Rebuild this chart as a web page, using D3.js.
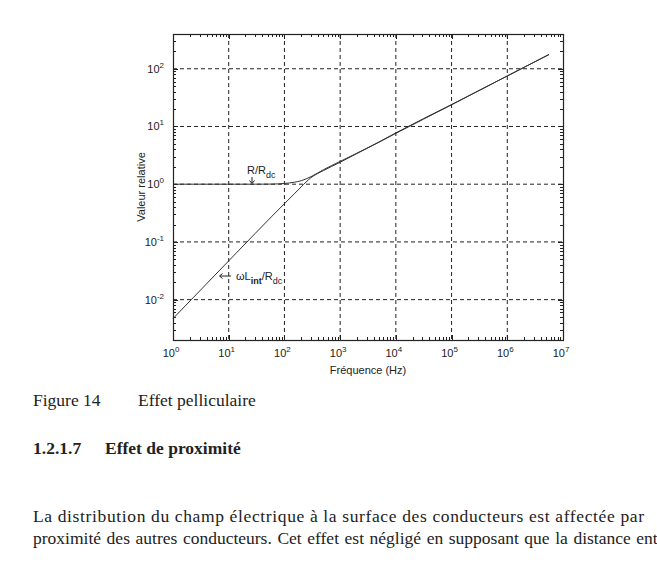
<!DOCTYPE html>
<html>
<head>
<meta charset="utf-8">
<script src="https://cdn.jsdelivr.net/npm/d3@7"></script>
<style>
  body { margin: 0; background: #fff; }
  svg { display: block; }
</style>
</head>
<body>
<div id="chart"></div>
<script>
// values
const freqs = [1, 10, 30, 60, 100, 150, 200, 300, 500, 1000, 2000, 5000, 1e4, 1e5, 1e6, 5.6e6];
const rRatio = [1, 1, 1, 1.005, 1.03, 1.08, 1.15, 1.35, 1.78, 2.48, 3.45, 5.4, 7.75, 24, 75, 177];
const lRatio = [0.0047, 0.047, 0.141, 0.28, 0.46, 0.68, 0.9, 1.3, 1.72, 2.4, 3.4, 5.35, 7.6, 23.7, 75, 176];
const xDecades = [0, 1, 2, 3, 4, 5, 6, 7];
const yDecades = [-2, -1, 0, 1, 2];

const width = 657, height = 565;
const plot = {left: 173, right: 563, top: 34, bottom: 340};

const svg = d3.select("#chart").append("svg")
    .attr("width", width)
    .attr("height", height);

const x = d3.scaleLog().domain([1, 1e7]).range([plot.left, plot.right]);
const y = d3.scaleLog().domain([2e-3, 400]).range([plot.bottom, plot.top]);

//Grid lines
const grid = svg.append("g")
    .attr("stroke", "#222")
    .attr("stroke-width", 1)
    .attr("stroke-dasharray", "4,3");
xDecades.slice(1, -1).forEach(d => {
    grid.append("line")
        .attr("x1", x(Math.pow(10, d))).attr("x2", x(Math.pow(10, d)))
        .attr("y1", plot.top).attr("y2", plot.bottom);
});
yDecades.forEach(d => {
    grid.append("line")
        .attr("x1", plot.left).attr("x2", plot.right)
        .attr("y1", y(Math.pow(10, d))).attr("y2", y(Math.pow(10, d)));
});

//Ticks on all four sides, pointing in
const ticks = svg.append("g").attr("stroke", "#222").attr("stroke-width", 1);
const isMajor = v => Math.abs(Math.log10(v) - Math.round(Math.log10(v))) < 1e-9;
x.ticks().forEach(v => {
    const len = isMajor(v) ? 5 : 3;
    const px = Math.round(x(v)) + 0.5;
    ticks.append("line").attr("x1", px).attr("x2", px).attr("y1", plot.bottom).attr("y2", plot.bottom - len);
    ticks.append("line").attr("x1", px).attr("x2", px).attr("y1", plot.top).attr("y2", plot.top + len);
});
y.ticks().forEach(v => {
    const len = isMajor(v) ? 5 : 3;
    const py = Math.round(y(v)) + 0.5;
    ticks.append("line").attr("y1", py).attr("y2", py).attr("x1", plot.left).attr("x2", plot.left + len);
    ticks.append("line").attr("y1", py).attr("y2", py).attr("x1", plot.right).attr("x2", plot.right - len);
});

//Box
svg.append("rect")
    .attr("x", plot.left + 0.5).attr("y", plot.top + 0.5)
    .attr("width", plot.right - plot.left).attr("height", plot.bottom - plot.top)
    .attr("fill", "none").attr("stroke", "#222").attr("stroke-width", 1.2);

//Tick labels with superscripts
const labelFont = "Liberation Sans, Arial, sans-serif";
xDecades.forEach(d => {
    const t = svg.append("text")
        .attr("x", x(Math.pow(10, d)) - 2)
        .attr("y", 357)
        .attr("text-anchor", "middle")
        .attr("font-family", labelFont)
        .attr("font-size", 11)
        .attr("fill", "#222");
    t.append("tspan").text("10");
    t.append("tspan").attr("dy", -5).attr("font-size", 8).text(d);
});
yDecades.forEach(d => {
    const t = svg.append("text")
        .attr("x", 164)
        .attr("y", y(Math.pow(10, d)) + 4)
        .attr("text-anchor", "end")
        .attr("font-family", labelFont)
        .attr("font-size", 11)
        .attr("fill", "#222");
    t.append("tspan").text("10");
    t.append("tspan").attr("dy", -5).attr("font-size", 8).text(d);
});

//Axis titles
svg.append("text")
    .attr("x", (plot.left + plot.right) / 2)
    .attr("y", 374)
    .attr("text-anchor", "middle")
    .attr("font-family", labelFont)
    .attr("font-size", 11)
    .attr("fill", "#222")
    .text("Fréquence (Hz)");
svg.append("text")
    .attr("transform", "translate(145,187) rotate(-90)")
    .attr("text-anchor", "middle")
    .attr("font-family", labelFont)
    .attr("font-size", 11)
    .attr("fill", "#222")
    .text("Valeur relative");

//Curves
const line = d3.line().x(d => x(d[0])).y(d => y(d[1])).curve(d3.curveMonotoneX);
[rRatio, lRatio].forEach(series => {
    svg.append("path")
        .datum(freqs.map((f, i) => [f, series[i]]))
        .attr("d", line)
        .attr("fill", "none")
        .attr("stroke", "#333")
        .attr("stroke-width", 1);
});

//Annotations
const rLabel = svg.append("text")
    .attr("x", 247).attr("y", 174)
    .attr("font-family", labelFont).attr("font-size", 11).attr("fill", "#222");
rLabel.append("tspan").text("R/R");
rLabel.append("tspan").attr("dy", 4).attr("font-size", 9).text("dc");
// down arrow under R/Rdc
svg.append("path")
    .attr("d", "M252,177V183M249.5,180.5L252,183.5L254.5,180.5")
    .attr("fill", "none").attr("stroke", "#222").attr("stroke-width", 1);

// left arrow before omega L label
svg.append("path")
    .attr("d", "M231,276H220M222.5,273.5L219.5,276L222.5,278.5")
    .attr("fill", "none").attr("stroke", "#222").attr("stroke-width", 1);
const lLabel = svg.append("text")
    .attr("x", 236).attr("y", 280)
    .attr("font-family", labelFont).attr("font-size", 11).attr("fill", "#222");
lLabel.append("tspan").text("ωL");
lLabel.append("tspan").attr("dy", 4).attr("font-size", 9).attr("font-weight", "bold").text("int");
lLabel.append("tspan").attr("dy", -4).text("/R");
lLabel.append("tspan").attr("dy", 4).attr("font-size", 9).text("dc");

//Caption and body text
const serif = "Liberation Serif, Times New Roman, serif";
const bodySize = 17.5;
svg.append("text").attr("x", 33).attr("y", 406)
    .attr("font-family", serif).attr("font-size", bodySize).attr("fill", "#222")
    .text("Figure 14");
svg.append("text").attr("x", 138).attr("y", 406)
    .attr("font-family", serif).attr("font-size", bodySize).attr("fill", "#222")
    .text("Effet pelliculaire");
svg.append("text").attr("x", 33).attr("y", 454)
    .attr("font-family", serif).attr("font-size", bodySize).attr("font-weight", "bold").attr("fill", "#222")
    .text("1.2.1.7");
svg.append("text").attr("x", 105).attr("y", 454)
    .attr("font-family", serif).attr("font-size", bodySize).attr("font-weight", "bold").attr("fill", "#222")
    .text("Effet de proximité");
svg.append("text").attr("x", 33).attr("y", 522)
    .attr("font-family", serif).attr("font-size", bodySize).attr("fill", "#222")
    .attr("textLength", 611).attr("lengthAdjust", "spacing")
    .text("La distribution du champ électrique à la surface des conducteurs est affectée par");
svg.append("text").attr("x", 33).attr("y", 544)
    .attr("font-family", serif).attr("font-size", bodySize).attr("fill", "#222")
    .attr("word-spacing", 1.2)
    .text("proximité des autres conducteurs. Cet effet est négligé en supposant que la distance entre");
</script>
</body>
</html>
